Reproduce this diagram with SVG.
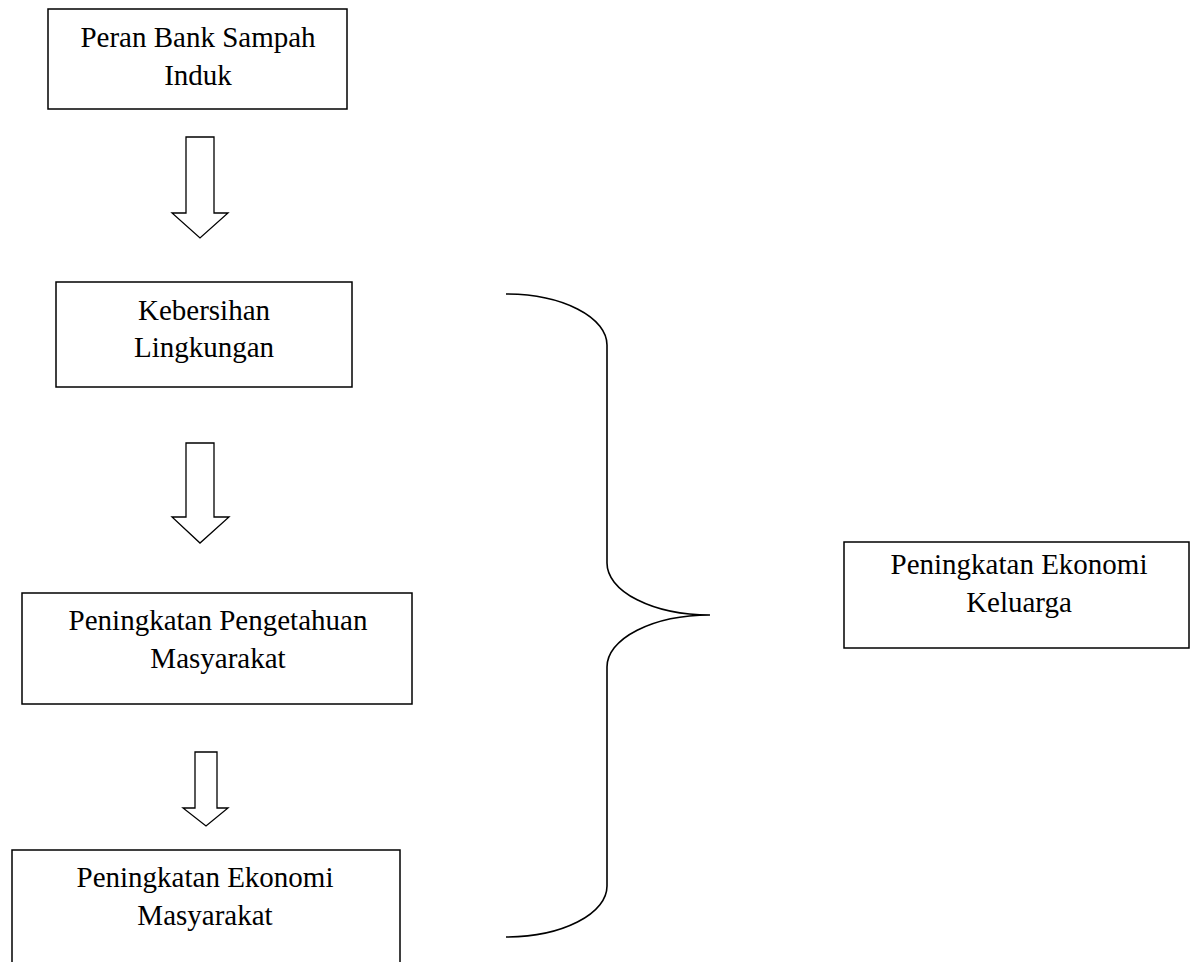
<svg xmlns="http://www.w3.org/2000/svg" width="1197" height="962" viewBox="0 0 1197 962">
<style>
.box{fill:#fff;stroke:#000;stroke-width:1.5}
.arr{fill:#fff;stroke:#000;stroke-width:1.3;stroke-linejoin:miter}
.t{font-family:"Liberation Serif","Times New Roman",serif;font-size:29px;fill:#000;text-anchor:middle}
.brace{fill:none;stroke:#000;stroke-width:1.6}
</style>
<rect width="1197" height="962" fill="#fff"/>
<g id="n1"><rect class="box" x="48" y="9" width="299" height="100"/><text class="t" x="198" y="47">Peran Bank Sampah</text><text class="t" x="198" y="85">Induk</text></g>
<g id="n2"><rect class="box" x="56" y="282" width="296" height="105"/><text class="t" x="204" y="320">Kebersihan</text><text class="t" x="204" y="357">Lingkungan</text></g>
<g id="n3"><rect class="box" x="22" y="593" width="390" height="111"/><text class="t" x="218" y="630">Peningkatan Pengetahuan</text><text class="t" x="218" y="668">Masyarakat</text></g>
<g id="n4"><rect class="box" x="12" y="850" width="388" height="130"/><text class="t" x="205" y="887">Peningkatan Ekonomi</text><text class="t" x="205" y="925">Masyarakat</text></g>
<g id="n5"><rect class="box" x="844" y="542" width="345" height="106"/><text class="t" x="1019" y="574">Peningkatan Ekonomi</text><text class="t" x="1019" y="612">Keluarga</text></g>
<g id="connectors">
<path class="arr" d="M186,137 H214 V213 H228 L200,238 L172,213 H186 Z"/>
<path class="arr" d="M186,443 H214 V517 H229 L200,543 L172,517 H186 Z"/>
<path class="arr" d="M195,752 H217 V808 H228 L206,826 L183,808 H195 Z"/>
<path class="brace" d="M506,294 A101,51 0 0 1 607,345 V563 A103,52 0 0 0 710,615 A103,52 0 0 0 607,667 V886 A101,51 0 0 1 506,937"/>
</g>
</svg>
